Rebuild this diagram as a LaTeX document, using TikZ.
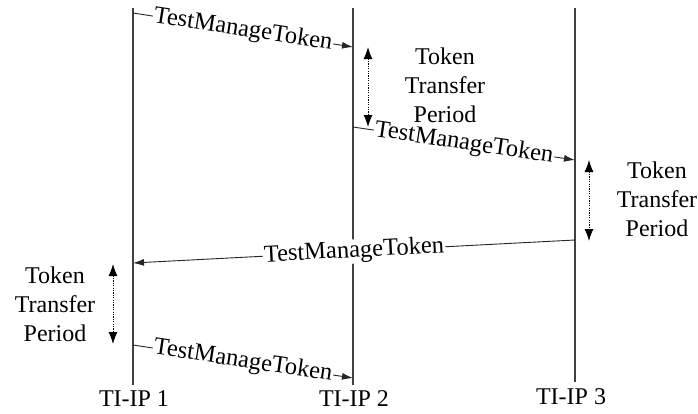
\documentclass[tikz,border=0pt]{standalone}
\usepackage{fontspec}
\setmainfont{Liberation Serif}
\usetikzlibrary{arrows.meta}
\begin{document}
\begin{tikzpicture}[x=1pt,y=-1pt,
  lifeline/.style={line width=1.3pt, draw=black!75},
  msg/.style={line width=0.9pt, draw=black!85, -{Latex[length=11pt,width=7pt]}},
  msglabel/.style={fill=white, inner sep=1pt, sloped, font=\fontsize{24.5}{28}\selectfont},
  period/.style={line width=1pt, dash pattern=on 1.2pt off 1.2pt,
    {Latex[length=12pt,width=9pt]}-{Latex[length=12pt,width=9pt]}},
  periodtext/.style={align=center, font=\fontsize{24}{29}\selectfont},
  iplabel/.style={font=\fontsize{24}{28}\selectfont}]
\useasboundingbox (0,0) rectangle (698,413);

% lifelines
\coordinate (t1) at (133,8);   \coordinate (e1) at (133,385);
\coordinate (t2) at (353,8);   \coordinate (e2) at (353,385);
\coordinate (t3) at (575,8);   \coordinate (e3) at (575,382);
\draw[lifeline] (t1) -- (e1);
\draw[lifeline] (t2) -- (e2);
\draw[lifeline] (t3) -- (e3);
\node[iplabel] (ip1) at (134,399) {TI-IP 1};
\node[iplabel] (ip2) at (354,399) {TI-IP 2};
\node[iplabel] (ip3) at (571,397) {TI-IP 3};

% message end points
\coordinate (a1) at (133,13);  \coordinate (b1) at (353,47);
\coordinate (a2) at (353,127); \coordinate (b2) at (575,160);
\coordinate (a3) at (575,240); \coordinate (b3) at (133,263);
\coordinate (a4) at (133,345); \coordinate (b4) at (353,378);

\draw[msg] (a1) -- node[msglabel] (l1) {TestManageToken} (b1);
\draw[msg] (a2) -- node[msglabel] (l2) {TestManageToken} (b2);
\draw[msg] (a3) -- node[msglabel] (l3) {TestManageToken} (b3);
\draw[msg] (a4) -- node[msglabel] (l4) {TestManageToken} (b4);

% token transfer periods
\coordinate (p2a) at (368,47);  \coordinate (p2b) at (368,127);
\coordinate (p3a) at (589,160); \coordinate (p3b) at (589,241);
\coordinate (p1a) at (113,264); \coordinate (p1b) at (113,344);
\draw[period] (p2a) -- (p2b);
\draw[period] (p3a) -- (p3b);
\draw[period] (p1a) -- (p1b);
\node[periodtext] (tp2) at (445,85) {Token\\Transfer\\Period};
\node[periodtext] (tp3) at (657,199) {Token\\Transfer\\Period};
\node[periodtext] (tp1) at (55,304) {Token\\Transfer\\Period};
\end{tikzpicture}
\end{document}
